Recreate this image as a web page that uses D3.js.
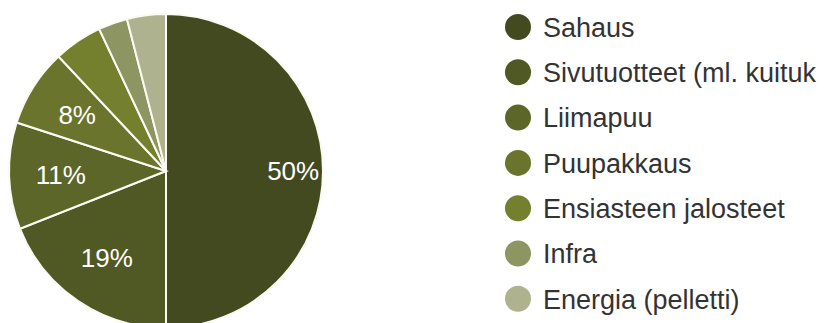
<!DOCTYPE html>
<html>
<head>
<meta charset="utf-8">
<script src="https://cdn.jsdelivr.net/npm/d3@7"></script>
<style>
  body { margin: 0; background: #fff; overflow: hidden; }
  svg { display: block; font-family: "Liberation Sans", Arial, sans-serif; }
</style>
</head>
<body>
<div id="vis"></div>
<script>
// Frame size and pie placement
const FRAME_WIDTH = 825;
const FRAME_HEIGHT = 323;
const CENTER = {x: 166, y: 171};
const RADIUS = 157;

// Data
const CATEGORIES = ["Sahaus", "Sivutuotteet (ml. kuituk", "Liimapuu", "Puupakkaus",
                    "Ensiasteen jalosteet", "Infra", "Energia (pelletti)"];
const SHARES = [50, 19, 11, 8, 5, 3, 4];
const COLORS = ["#434a1f", "#505824", "#5d6629", "#6a742d", "#75802f", "#8d9562", "#aeb28f"];

const data = CATEGORIES.map((c, i) => ({name: c, value: SHARES[i]}));

const FRAME = d3.select("#vis")
  .append("svg")
    .attr("width", FRAME_WIDTH)
    .attr("height", FRAME_HEIGHT);

const color = d3.scaleOrdinal()
  .domain(CATEGORIES)
  .range(COLORS);

// Pie layout, clockwise from 12 o'clock, keep data order
const pie = d3.pie()
  .sort(null)
  .value((d) => d.value);

const arc = d3.arc()
  .innerRadius(0)
  .outerRadius(RADIUS);

const arcs = pie(data);

const g = FRAME.append("g")
  .attr("transform", "translate(" + CENTER.x + "," + CENTER.y + ")");

g.selectAll("path")
  .data(arcs)
  .enter()
  .append("path")
    .attr("d", arc)
    .attr("fill", (d) => color(d.data.name))
    .attr("stroke", "#fbfbf3")
    .attr("stroke-width", 2);

// Percentage labels, only for the bigger slices
const labelArcBig = d3.arc().innerRadius(RADIUS * 0.81).outerRadius(RADIUS * 0.81);
const labelArcSmall = d3.arc().innerRadius(RADIUS * 0.67).outerRadius(RADIUS * 0.67);

g.selectAll("text.pct")
  .data(arcs.filter((d) => d.data.value >= 8))
  .enter()
  .append("text")
    .attr("class", "pct")
    .attr("transform", (d) => {
      const c = (d.data.value >= 30 ? labelArcBig : labelArcSmall).centroid(d);
      return "translate(" + c[0] + "," + c[1] + ")";
    })
    .attr("text-anchor", "middle")
    .attr("dy", "0.36em")
    .attr("fill", "#ffffff")
    .style("font-size", "26px")
    .text((d) => d.data.value + "%");

// Legend
const LEGEND = {x: 518, y: 27, step: 45.3};

const legend = FRAME.append("g")
  .selectAll("g")
  .data(CATEGORIES)
  .enter()
  .append("g")
    .attr("transform", (d, i) => "translate(" + LEGEND.x + "," + (LEGEND.y + i * LEGEND.step) + ")");

legend.append("circle")
  .attr("r", 13)
  .attr("fill", (d) => color(d));

legend.append("text")
  .attr("x", 25)
  .attr("dy", "0.36em")
  .attr("fill", "#333333")
  .style("font-size", "27px")
  .text((d) => d);
</script>
</body>
</html>
